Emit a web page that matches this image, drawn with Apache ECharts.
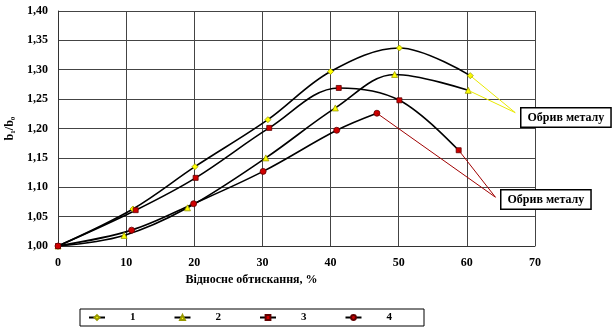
<!DOCTYPE html>
<html>
<head>
<meta charset="utf-8">
<script src="https://cdn.jsdelivr.net/npm/echarts@6/dist/echarts.min.js"></script>
<style>
  html, body { margin: 0; padding: 0; background: #fff; }
  #chart { width: 613px; height: 328px; }
</style>
</head>
<body>
<div id="chart"></div>
<script>
// curve 1 (yellow diamonds)
const x1 = [0, 11, 20.1, 30.8, 40, 50.1, 60.5];
const y1 = [1.0, 1.063, 1.135, 1.215, 1.297, 1.337, 1.29];
// curve 2 (yellow triangles)
const x2 = [0, 9.7, 19, 30.5, 40.7, 49.4, 60.2];
const y2 = [1.0, 1.018, 1.065, 1.15, 1.235, 1.292, 1.265];
// curve 3 (red squares)
const x3 = [0, 11.4, 20.2, 31, 41.2, 50.1, 58.8];
const y3 = [1.0, 1.061, 1.116, 1.201, 1.269, 1.248, 1.163];
// curve 4 (red circles)
const x4 = [0, 10.8, 19.9, 30.1, 40.9, 46.8];
const y4 = [1.0, 1.027, 1.072, 1.127, 1.197, 1.226];

const seriesNames = ["1", "2", "3", "4"];
const xTicks = [0, 10, 20, 30, 40, 50, 60, 70];
const yTicks = [1.0, 1.05, 1.1, 1.15, 1.2, 1.25, 1.3, 1.35, 1.4];
const calloutText = "Обрив металу";
// where the callout leader lines meet, in data units
const yellowAnchor = [67.1, 1.227];
const redAnchor = [64.2, 1.083];

const font = "'Liberation Serif', 'Times New Roman', serif";

function pairs(xs, ys) {
  return xs.map((x, i) => [x, ys[i]]);
}
function last(xs, ys) {
  return [xs[xs.length - 1], ys[ys.length - 1]];
}

let myChart = echarts.init(document.getElementById("chart"));

const lineStyle = { color: "#000", width: 1.6 };

myChart.setOption({
  animation: false,
  grid: { left: 58, right: 78, top: 11, bottom: 82, outerBoundsMode: "none" },
  xAxis: {
    type: "value",
    min: xTicks[0],
    max: xTicks[xTicks.length - 1],
    interval: 10,
    name: "Відносне обтискання, %",
    nameLocation: "middle",
    nameGap: 27,
    nameTextStyle: {
      fontFamily: font, fontWeight: "bold", fontSize: 12, color: "#000",
      padding: [0, 90, 0, 0]
    },
    axisLine: { show: true, lineStyle: { color: "#333" } },
    axisTick: { show: false },
    axisLabel: { fontFamily: font, fontWeight: "bold", fontSize: 12, color: "#000", margin: 11 },
    splitLine: { show: true, lineStyle: { color: "#444", width: 1 } }
  },
  yAxis: {
    type: "value",
    min: yTicks[0],
    max: yTicks[yTicks.length - 1],
    interval: 0.05,
    name: "b\u2081/b\u2080",
    nameLocation: "middle",
    nameGap: 39,
    nameRotate: 90,
    nameTextStyle: { fontFamily: font, fontWeight: "bold", fontSize: 12, color: "#000" },
    axisLine: { show: true, lineStyle: { color: "#333" } },
    axisTick: { show: false },
    axisLabel: {
      fontFamily: font, fontWeight: "bold", fontSize: 12, color: "#000", margin: 10,
      formatter: v => v.toFixed(2).replace(".", ",")
    },
    splitLine: { show: true, lineStyle: { color: "#444", width: 1 } }
  },
  legend: {
    left: 80,
    top: 309,
    data: seriesNames,
    itemWidth: 16,
    itemHeight: 6,
    itemGap: 38,
    borderColor: "#000",
    borderWidth: 1,
    padding: [3, 32, 3, 8],
    textStyle: { fontFamily: font, fontWeight: "bold", fontSize: 11, color: "#000", padding: [0, 0, 0, 20] }
  },
  series: [
    {
      name: seriesNames[0],
      type: "line",
      smooth: 0.35,
      data: pairs(x1, y1),
      symbol: "diamond",
      symbolSize: 6,
      lineStyle: lineStyle,
      itemStyle: { color: "#ffff00", borderColor: "#999900", borderWidth: 0.8 },
      markLine: {
        silent: true,
        symbol: ["none", "none"],
        label: { show: false },
        lineStyle: { color: "#e8e800", width: 1, type: "solid" },
        data: [
          [{ coord: last(x1, y1) }, { coord: yellowAnchor }],
          [{ coord: last(x2, y2) }, { coord: yellowAnchor }]
        ]
      }
    },
    {
      name: seriesNames[1],
      type: "line",
      smooth: 0.35,
      data: pairs(x2, y2),
      symbol: "triangle",
      symbolSize: 6,
      lineStyle: lineStyle,
      itemStyle: { color: "#ffff00", borderColor: "#999900", borderWidth: 0.8 }
    },
    {
      name: seriesNames[2],
      type: "line",
      smooth: 0.35,
      data: pairs(x3, y3),
      symbol: "rect",
      symbolSize: 5,
      lineStyle: lineStyle,
      itemStyle: { color: "#d00000", borderColor: "#600000", borderWidth: 0.8 },
      markLine: {
        silent: true,
        symbol: ["none", "none"],
        label: { show: false },
        lineStyle: { color: "#a00000", width: 1, type: "solid" },
        data: [
          [{ coord: last(x4, y4) }, { coord: redAnchor }],
          [{ coord: last(x3, y3) }, { coord: redAnchor }]
        ]
      }
    },
    {
      name: seriesNames[3],
      type: "line",
      smooth: 0.35,
      data: pairs(x4, y4),
      symbol: "circle",
      symbolSize: 6,
      lineStyle: lineStyle,
      itemStyle: { color: "#d00000", borderColor: "#600000", borderWidth: 0.8 }
    }
  ],
  graphic: [
    {
      type: "text",
      left: 520,
      top: 107,
      z: 100,
      style: {
        text: calloutText,
        font: "bold 12px " + font,
        fill: "#000",
        backgroundColor: "#fff",
        borderColor: "#000",
        borderWidth: 1.5,
        padding: [3, 6, 3, 6]
      }
    },
    {
      type: "text",
      left: 500,
      top: 189,
      z: 100,
      style: {
        text: calloutText,
        font: "bold 12px " + font,
        fill: "#000",
        backgroundColor: "#fff",
        borderColor: "#000",
        borderWidth: 1.5,
        padding: [3, 6, 3, 6]
      }
    }
  ]
});
</script>
</body>
</html>
